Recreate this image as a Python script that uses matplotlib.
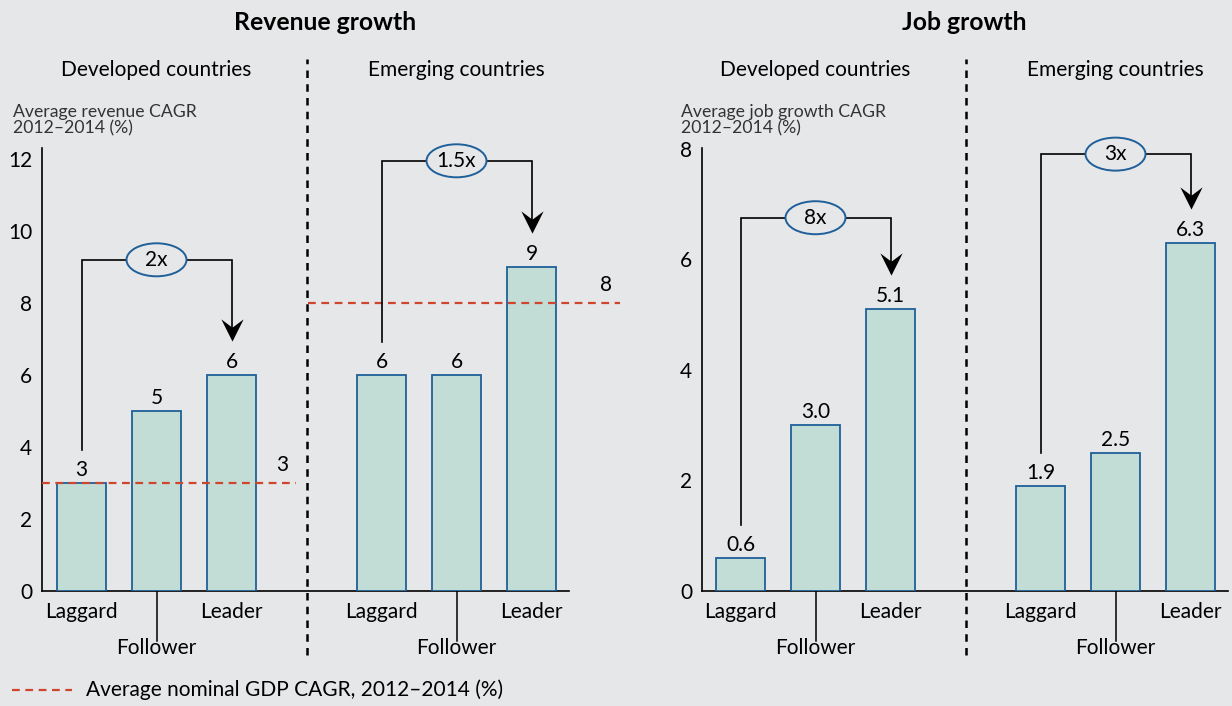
import numpy as np
import matplotlib.pyplot as plt
from matplotlib.patches import Ellipse
from matplotlib.path import Path
from matplotlib.lines import Line2D

plt.rcParams['font.family'] = ['Lato', 'DejaVu Sans']

# data
tiers = ['Laggard', 'Follower', 'Leader']
groups = ['Developed countries', 'Emerging countries']
rev_developed = [3, 5, 6]
rev_emerging = [6, 6, 9]
rev_gdp = [3, 8]
rev_multiples = ['2x', '1.5x']
rev_bracket_top = [9.2, 11.95]
job_developed = [0.6, 3.0, 5.1]
job_emerging = [1.9, 2.5, 6.3]
job_multiples = ['8x', '3x']
job_bracket_top = [6.75, 7.9]
rev_ticks = [0, 2, 4, 6, 8, 10, 12]
job_ticks = [0, 2, 4, 6, 8]

BG = '#e6e7e9'
BAR = '#c2ddd6'
EDGE = '#1f5f9a'
RED = '#d0452e'
W, H = 1232, 706
FS = 15

fig = plt.figure(figsize=(W / 100, H / 100), dpi=100, facecolor=BG)

# stealth-like arrow head, tip pointing down
head = Path([(0, -1), (-1, 1), (0, 0.25), (1, 1), (0, -1)],
            [Path.MOVETO, Path.LINETO, Path.LINETO, Path.LINETO, Path.CLOSEPOLY])


def panel(left_px, right_px, first_bar_px, ymax, dev, emg, ticks, mults, tops, fmt, gdp=None):
    ax = fig.add_axes([left_px / W, (H - 591) / H, (right_px - left_px) / W, 443 / H])
    ax.set_facecolor(BG)
    x0 = (left_px - first_bar_px) / 75
    ax.set_xlim(x0, x0 + (right_px - left_px) / 75)
    ax.set_ylim(0, ymax)
    pu = 443 / ymax  # pixels per data unit

    xs_dev = np.arange(3)
    xs_emg = np.arange(3) + 4
    for xs, vals in [(xs_dev, dev), (xs_emg, emg)]:
        ax.bar(xs, vals, width=0.65, color=BAR, edgecolor=EDGE, linewidth=1.3, zorder=3)
        for x, v in zip(xs, vals):
            ax.annotate(fmt.format(v), (x, v), xytext=(0, 2), textcoords='offset points',
                        ha='center', va='bottom', fontsize=FS, zorder=4)
        for i, t in enumerate(tiers):
            ax.text(xs[i], -0.047 if i != 1 else -0.128, t, transform=ax.get_xaxis_transform(),
                    ha='center', va='center', fontsize=FS)
        ax.plot([xs[1], xs[1]], [0, -0.113], color='black', lw=1.1,
                transform=ax.get_xaxis_transform(), clip_on=False)

    # group separator
    ax.axvline(3, ymin=-0.145, ymax=1.2, color='black', lw=1.8, ls=(0, (3, 2.5)), clip_on=False)

    # group headings
    for xc, g in zip([1, 5], groups):
        ax.text(xc, (591 - 70) / 443, g, transform=ax.get_xaxis_transform(),
                ha='center', va='center', fontsize=FS)

    # GDP reference lines
    if gdp is not None:
        ax.plot([x0, 2.86], [gdp[0]] * 2, color=RED, lw=1.6, ls=(0, (3.5, 2.5)), zorder=5)
        ax.text(2.68, gdp[0] + 8 / pu, str(gdp[0]), ha='center', va='bottom', fontsize=FS)
        ax.plot([3.02, ax.get_xlim()[1]], [gdp[1]] * 2, color=RED, lw=1.6, ls=(0, (3.5, 2.5)), zorder=5)
        ax.text(6.99, gdp[1] + 8 / pu, str(gdp[1]), ha='center', va='bottom', fontsize=FS)

    # multiple brackets from laggard to leader
    for xs, vals, m, top in [(xs_dev, dev, mults[0], tops[0]), (xs_emg, emg, mults[1], tops[1])]:
        start = vals[0] + 33 / pu
        tip = vals[2] + 35 / pu
        ax.plot([xs[0], xs[0], xs[2], xs[2]], [start, top, top, tip + 12 / pu],
                color='black', lw=1.2, zorder=6, solid_joinstyle='miter', clip_on=False)
        ax.plot(xs[2], tip + 10 / pu, marker=head, markersize=16, color='black',
                markeredgewidth=0, zorder=7, clip_on=False)
        ax.add_patch(Ellipse((xs[1], top), 60 / 75, 33 / pu, facecolor=BG,
                             edgecolor=EDGE, lw=1.4, zorder=8, clip_on=False))
        ax.text(xs[1], top, m, ha='center', va='center', fontsize=FS, zorder=9)

    for s in ['top', 'right']:
        ax.spines[s].set_visible(False)
    ax.spines['left'].set_linewidth(1.2)
    ax.spines['bottom'].set_linewidth(1.2)
    ax.spines['bottom'].set_bounds(x0, 6.5)
    ax.set_xticks([])
    ax.set_yticks(ticks)
    ax.tick_params(axis='y', length=0, pad=7, labelsize=FS)
    return ax


ax1 = panel(42, 620, 81.5, 443 / 36, rev_developed, rev_emerging, rev_ticks,
            rev_multiples, rev_bracket_top, '{:g}', rev_gdp)
ax2 = panel(702, 1232, 740.5, 443 / 55.3, job_developed, job_emerging, job_ticks,
            job_multiples, job_bracket_top, '{:.1f}')

fig.text(325 / W, 1 - 22 / H, 'Revenue growth', ha='center', va='center', fontsize=17.8, fontweight='bold')
fig.text(964 / W, 1 - 22 / H, 'Job growth', ha='center', va='center', fontsize=17.8, fontweight='bold')
fig.text(13 / W, 1 - 104 / H, 'Average revenue CAGR\n2012\u20132014 (%)', ha='left', va='top',
         fontsize=12.7, color='#333333', linespacing=1.05)
fig.text(681 / W, 1 - 104 / H, 'Average job growth CAGR\n2012\u20132014 (%)', ha='left', va='top',
         fontsize=12.7, color='#333333', linespacing=1.05)

# legend
fig.add_artist(Line2D([12 / W, 72 / W], [1 - 690 / H] * 2, color=RED, lw=1.6, ls=(0, (3.5, 2.5))))
fig.text(86 / W, 1 - 690 / H, 'Average nominal GDP CAGR, 2012\u20132014 (%)', ha='left', va='center',
         fontsize=FS)

fig.savefig('out.png', dpi=100, facecolor=BG)
